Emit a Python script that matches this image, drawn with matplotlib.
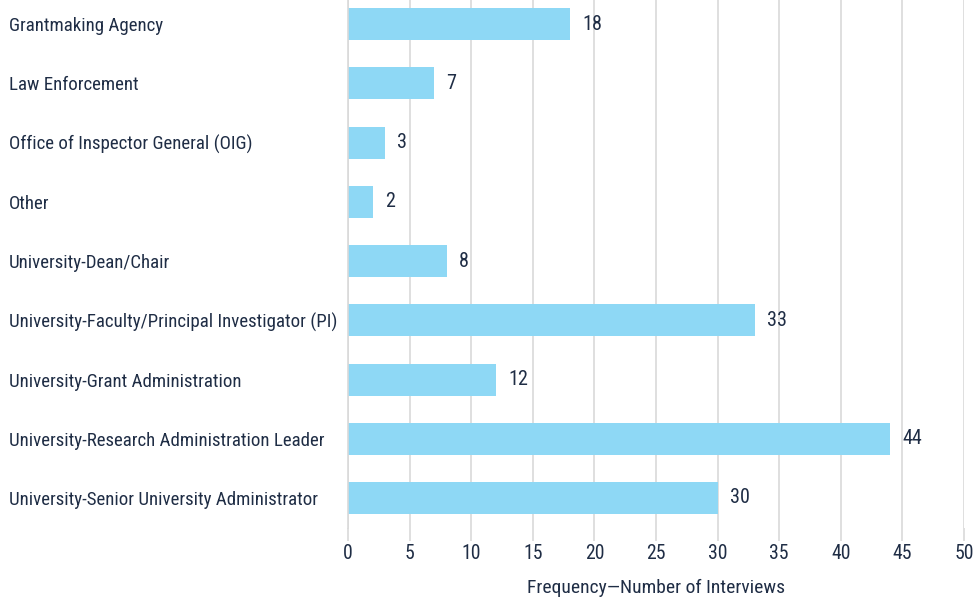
import matplotlib
matplotlib.use("Agg")
import matplotlib.pyplot as plt

# interview counts by role
roles = [
    "Grantmaking Agency",
    "Law Enforcement",
    "Office of Inspector General (OIG)",
    "Other",
    "University-Dean/Chair",
    "University-Faculty/Principal Investigator (PI)",
    "University-Grant Administration",
    "University-Research Administration Leader",
    "University-Senior University Administrator",
]
counts = [18, 7, 3, 2, 8, 33, 12, 44, 30]
xticks = [0, 5, 10, 15, 20, 25, 30, 35, 40, 45, 50]

plt.rcParams['font.family'] = ['Roboto Condensed', 'DejaVu Sans']
plt.rcParams['font.stretch'] = 'condensed'
text_col = "#1f2d45"
bar_col = "#8ed8f5"

fig = plt.figure(figsize=(9.74, 6.04), dpi=100)
ax = fig.add_axes([0.3573, 0.1265, 0.6325, 0.8825])

ypos = list(range(len(roles)))
ax.barh(ypos, counts, height=0.54, color=bar_col, zorder=2)
for y, v in zip(ypos, counts):
    ax.text(v + 1, y, str(v), va='center', ha='left', fontsize=14.5, color=text_col)

ax.set_ylim(len(roles) - 0.5, -0.5)
ax.set_xlim(0, 50)
ax.set_yticks(ypos)
ax.set_yticklabels(roles, fontsize=13.6, color=text_col, ha='left')
ax.tick_params(axis='y', length=0, pad=244)
ax.set_xticks(xticks)
ax.set_xticklabels([str(t) for t in xticks], fontsize=14.2, color=text_col)
ax.tick_params(axis='x', length=9, color="#d9d9d9", width=1.2, pad=2.5)
ax.grid(axis='x', color="#d9d9d9", linewidth=1.2, zorder=0)
for s in ['top', 'right', 'bottom']:
    ax.spines[s].set_visible(False)
ax.spines['left'].set_color("#d9d9d9")
ax.spines['left'].set_linewidth(1.2)
ax.set_xlabel("Frequency\u2014Number of Interviews", fontsize=14, color=text_col, labelpad=12)

fig.savefig("out.png", dpi=100)
